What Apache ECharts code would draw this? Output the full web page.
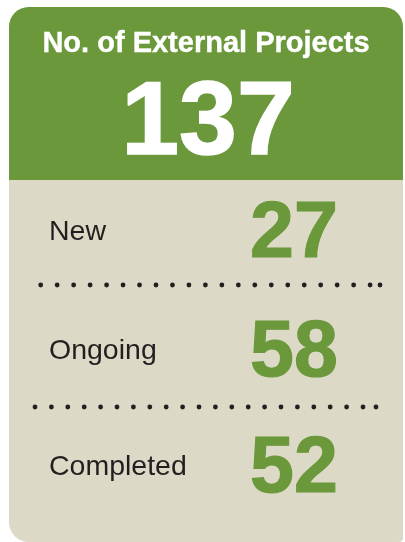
<!DOCTYPE html>
<html>
<head>
<meta charset="utf-8">
<script src="https://cdn.jsdelivr.net/npm/echarts@6/dist/echarts.min.js"></script>
<style>
html,body{margin:0;padding:0;background:#ffffff;}
#chart{width:405px;height:542px;}
</style>
</head>
<body>
<div id="chart"></div>
<script>
// ---- data ----
var titleText = 'No. of External Projects';
var totalValue = 137;
var categories = ['New', 'Ongoing', 'Completed'];
var values = [27, 58, 52];

// ---- style ----
var GREEN = '#6b983b';
var BEIGE = '#dcd9c6';
var DARK = '#231f20';
var FONT = '"Liberation Sans", Arial, Helvetica, sans-serif';

var chart = echarts.init(document.getElementById('chart'), null, {renderer: 'canvas'});

var elements = [];
// card body
elements.push({type: 'rect', shape: {x: 9, y: 7, width: 394, height: 535, r: [20, 20, 4, 20]}, style: {fill: BEIGE}, z: 1});
// header
elements.push({type: 'rect', shape: {x: 9, y: 7, width: 394, height: 173, r: [20, 20, 0, 0]}, style: {fill: GREEN}, z: 2});
// title
elements.push({type: 'text', z: 3, style: {text: titleText, x: 206, y: 44, fill: '#ffffff', stroke: '#ffffff', lineWidth: 0.4,
  font: 'bold 29px ' + FONT, textAlign: 'center', textVerticalAlign: 'middle', align: 'center', verticalAlign: 'middle'}});
// total
elements.push({type: 'text', z: 3, style: {text: String(totalValue), x: 208, y: 125, fill: '#ffffff', stroke: '#ffffff', lineWidth: 1.5,
  font: 'bold 104px ' + FONT, textAlign: 'center', textVerticalAlign: 'middle', align: 'center', verticalAlign: 'middle'}});

// rows
var rowY = [232, 351, 467];
categories.forEach(function (c, i) {
  elements.push({type: 'text', z: 3, style: {text: c, x: 49, y: rowY[i], fill: DARK,
    font: '28.5px ' + FONT, textAlign: 'left', textVerticalAlign: 'middle', align: 'left', verticalAlign: 'middle'}});
  elements.push({type: 'text', z: 3, style: {text: String(values[i]), x: 294, y: rowY[i] + 3, fill: GREEN, stroke: GREEN, lineWidth: 1.2,
    font: 'bold 79px ' + FONT, textAlign: 'center', textVerticalAlign: 'middle', align: 'center', verticalAlign: 'middle'}});
});

// dotted separators
var seps = [{y: 285, x0: 40.7, step: 16.47, end: 380}, {y: 407, x0: 35, step: 16.4, end: 376}];
seps.forEach(function (s) {
  for (var k = 0; k <= 20; k++) {
    elements.push({type: 'circle', z: 3, shape: {cx: s.x0 + k * s.step, cy: s.y, r: 2.4}, style: {fill: DARK}});
  }
  elements.push({type: 'circle', z: 3, shape: {cx: s.end, cy: s.y, r: 2.4}, style: {fill: DARK}});
});

chart.setOption({
  animation: false,
  backgroundColor: '#ffffff',
  graphic: {elements: elements}
});
</script>
</body>
</html>
